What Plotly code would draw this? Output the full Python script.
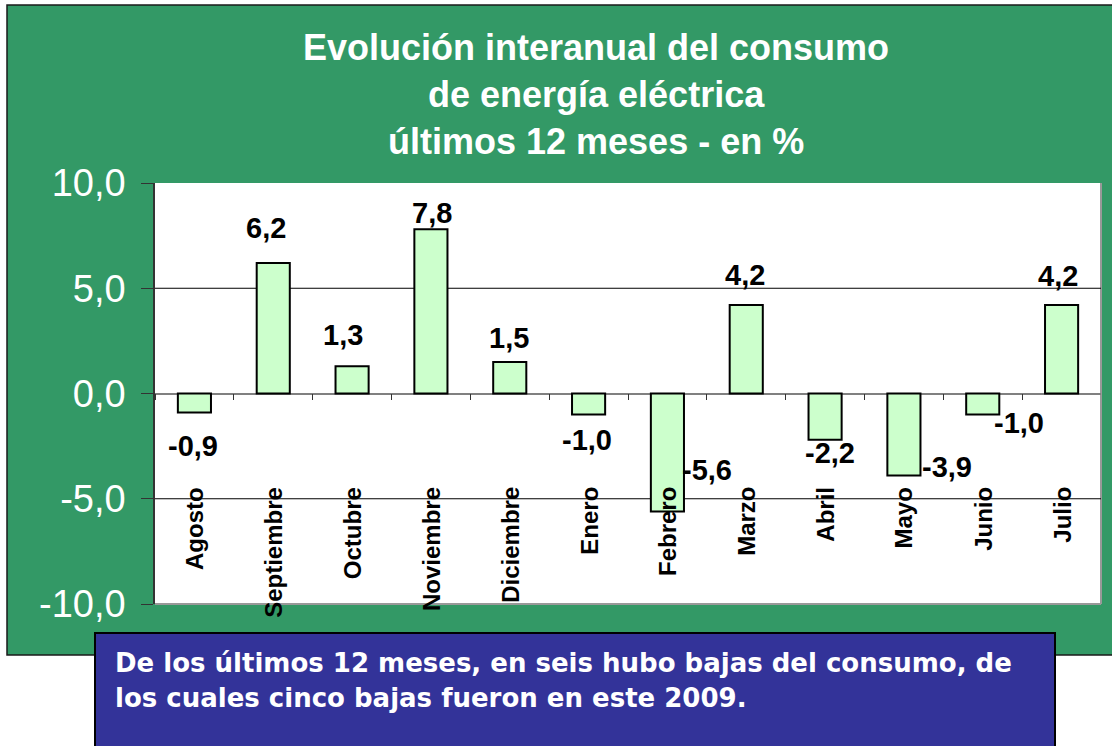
import plotly.graph_objects as go

# ---------------- data ----------------
CATEGORIES = ["Agosto", "Septiembre", "Octubre", "Noviembre", "Diciembre", "Enero",
              "Febrero", "Marzo", "Abril", "Mayo", "Junio", "Julio"]
VALUES = [-0.9, 6.2, 1.3, 7.8, 1.5, -1.0, -5.6, 4.2, -2.2, -3.9, -1.0, 4.2]
Y_TICKS = [-10, -5, 0, 5, 10]
GRID_VALUES = [5, -5]
TITLE_LINES = ["Evolución interanual del consumo", "de energía eléctrica", "últimos 12 meses - en %"]
NOTE_LINES = ["De los últimos 12 meses, en seis hubo bajas del consumo, de",
              "los cuales cinco bajas fueron en este 2009."]

# ---------------- layout helpers (pixels) ----------------
W, H = 1112, 746
PLOT_L, PLOT_R, PLOT_T, PLOT_B = 155, 1101, 183, 604
# value-label pixel offsets (manual placement as in the reference)
LABEL_DX = [-1, -7, -9, 1, -1, -2, 40, -1, 5, 43, 36, -4]
LABEL_DY = [-34, 35, 31, 16, 24, -25, 41, 30, -13, 9, -8, 29]
TITLE_Y = [47, 95, 141]
NOTE_Y = [663, 698]


def px(x):
    return x / W


def py(y):
    return 1 - y / H


def fmt(v):
    return f"{v:.1f}".replace(".", ",")


GREEN = "#339966"
BLUE = "#333399"
BAR = "#ccffcc"
FONT = "Liberation Sans, Arial, sans-serif"

fig = go.Figure()
fig.add_trace(go.Bar(
    x=CATEGORIES, y=VALUES,
    marker=dict(color=BAR, line=dict(color="black", width=2)),
    width=0.42, hoverinfo="skip", showlegend=False,
))

shapes = [
    # green panel
    dict(type="rect", xref="paper", yref="paper", x0=px(7), x1=1.01, y0=py(655), y1=py(5),
         fillcolor=GREEN, line=dict(color="#1a1a1a", width=1.5), layer="below"),
    # white plot area
    dict(type="rect", xref="paper", yref="paper", x0=px(PLOT_L), x1=px(PLOT_R), y0=py(PLOT_B), y1=py(PLOT_T),
         fillcolor="white", line=dict(width=0), layer="below"),
    # plot border right / bottom (grey)
    dict(type="line", xref="paper", yref="paper", x0=px(PLOT_R), x1=px(PLOT_R), y0=py(PLOT_B), y1=py(PLOT_T),
         line=dict(color="#999999", width=2), layer="below"),
    dict(type="line", xref="paper", yref="paper", x0=px(PLOT_L), x1=px(PLOT_R), y0=py(PLOT_B), y1=py(PLOT_B),
         line=dict(color="#999999", width=2), layer="below"),
    # blue note box
    dict(type="rect", xref="paper", yref="paper", x0=px(95), x1=px(1055), y0=-0.02, y1=py(633),
         fillcolor=BLUE, line=dict(color="black", width=2), layer="below"),
]
for g in GRID_VALUES:
    shapes.append(dict(type="line", xref="x domain", yref="y", x0=0, x1=1, y0=g, y1=g,
                       line=dict(color="black", width=1), layer="below"))

annotations = []
for i, line in enumerate(TITLE_LINES):
    annotations.append(dict(xref="paper", yref="paper", x=px(596), y=py(TITLE_Y[i]),
                            text=line, showarrow=False, xanchor="center", yanchor="middle",
                            font=dict(family=FONT, size=36, color="white", weight="bold")))
for i, line in enumerate(NOTE_LINES):
    annotations.append(dict(xref="paper", yref="paper", x=px(113), y=py(NOTE_Y[i]),
                            text=line, showarrow=False, xanchor="left", yanchor="middle",
                            font=dict(family="DejaVu Sans, Verdana, sans-serif", size=26,
                                      color="white", weight="bold")))
for i, (c, v) in enumerate(zip(CATEGORIES, VALUES)):
    annotations.append(dict(xref="x", yref="y", x=c, y=v, xshift=LABEL_DX[i], yshift=LABEL_DY[i],
                            text=fmt(v), showarrow=False,
                            xanchor="center", yanchor="middle",
                            font=dict(family=FONT, size=29, color="black", weight="bold")))
    annotations.append(dict(xref="x", yref="y", x=c, y=-4.35, text=c, showarrow=False,
                            textangle=-90, xanchor="center", yanchor="top",
                            font=dict(family=FONT, size=24, color="black", weight="bold")))

zero_pos = py(PLOT_T + (PLOT_B - PLOT_T) / 2)

fig.update_layout(
    width=W, height=H, margin=dict(l=0, r=0, t=0, b=0, pad=0, autoexpand=False),
    paper_bgcolor="white", plot_bgcolor="rgba(0,0,0,0)",
    shapes=shapes, annotations=annotations,
    xaxis=dict(domain=[px(PLOT_L), px(PLOT_R)], range=[-0.5, 11.5], anchor="free", position=zero_pos,
               showline=True, linecolor="#808080", linewidth=1.5, layer="below traces",
               ticks="outside", ticklen=6, tickcolor="#333333", tickson="boundaries",
               showticklabels=False, showgrid=False, zeroline=False, fixedrange=True, automargin=False),
    yaxis=dict(domain=[py(PLOT_B), py(PLOT_T)], range=[-10, 10],
               tickmode="array", tickvals=Y_TICKS, ticktext=[fmt(v) for v in Y_TICKS],
               showline=True, linecolor="#333333", linewidth=1.5,
               ticks="outside", ticklen=12, tickcolor="#333333", ticklabelstandoff=8,
               tickfont=dict(family=FONT, size=38, color="white"),
               showgrid=False, zeroline=False, fixedrange=True, automargin=False),
)

fig.write_html("out.html", config={"displayModeBar": False},
               post_script="document.body.style.margin='0';document.body.style.overflow='hidden';")
